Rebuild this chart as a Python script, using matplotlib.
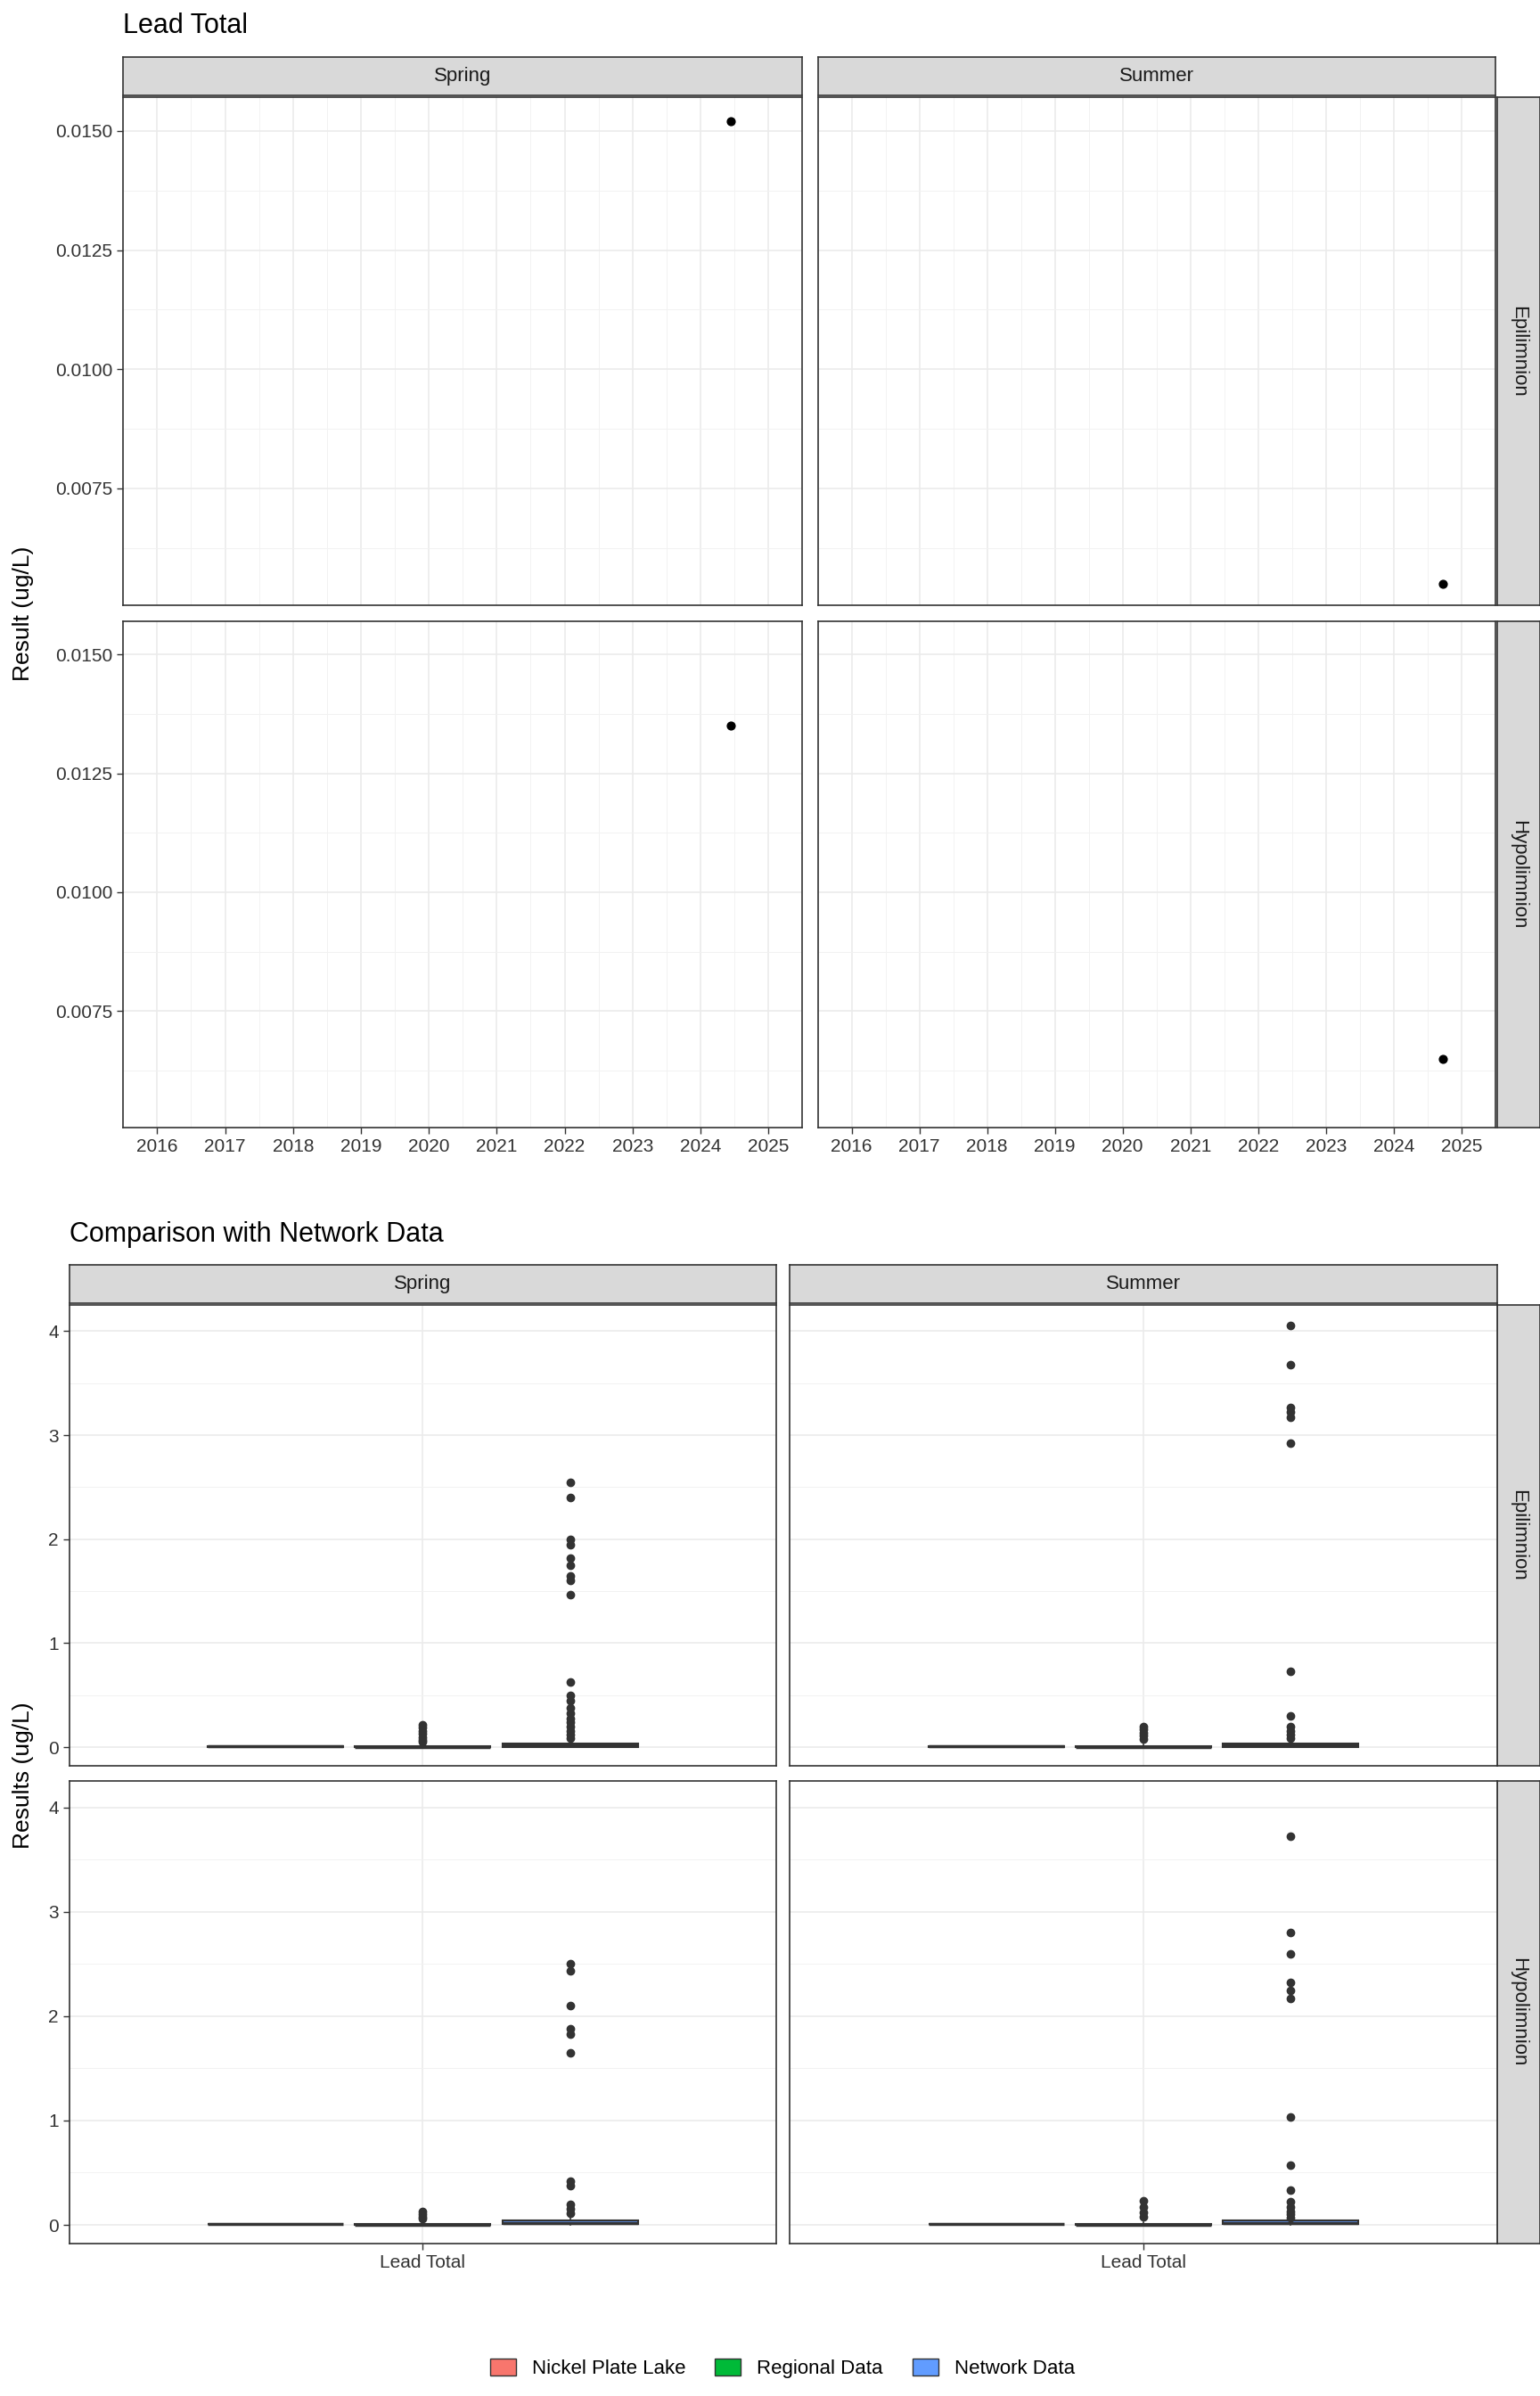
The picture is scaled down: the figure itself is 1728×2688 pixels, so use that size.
import matplotlib
matplotlib.use("Agg")
import matplotlib.pyplot as plt
from matplotlib.patches import Patch
import numpy as np

plt.rcParams["font.family"] = "Liberation Sans"

seasons = ["Spring", "Summer"]
layers = ["Epilimnion", "Hypolimnion"]
year_ticks = list(range(2016, 2026))
pt_year = {("Spring","Epilimnion"):2024.45, ("Summer","Epilimnion"):2024.72,
           ("Spring","Hypolimnion"):2024.45, ("Summer","Hypolimnion"):2024.72}
pt_val = {("Spring","Epilimnion"):0.0152, ("Summer","Epilimnion"):0.0055,
          ("Spring","Hypolimnion"):0.0135, ("Summer","Hypolimnion"):0.0065}

groups = ["Nickel Plate Lake", "Regional Data", "Network Data"]
colors = ["#F8766D", "#00BA38", "#619CFF"]
box_stats = {"Nickel Plate Lake": (0.005, 0.007, 0.01, 0.004, 0.012),
             "Regional Data": (0.0, 0.004, 0.01, -0.01, 0.03),
             "Network Data": (0.005, 0.02, 0.04, 0.0, 0.09)}
outliers = {
 ("Spring","Epilimnion"): {"Regional Data":[0.22,0.19,0.16,0.13,0.1,0.07,0.05],
   "Network Data":[2.55,2.4,2.0,1.95,1.82,1.75,1.65,1.6,1.47,0.63,0.5,0.45,0.38,0.33,0.28,0.24,0.2,0.16,0.12,0.09]},
 ("Summer","Epilimnion"): {"Regional Data":[0.2,0.17,0.14,0.11,0.08],
   "Network Data":[4.05,3.68,3.27,3.22,3.17,2.92,0.73,0.3,0.2,0.16,0.12,0.09]},
 ("Spring","Hypolimnion"): {"Regional Data":[0.13,0.1,0.08,0.06],
   "Network Data":[2.5,2.43,2.1,1.88,1.83,1.65,0.42,0.38,0.2,0.15,0.11]},
 ("Summer","Hypolimnion"): {"Regional Data":[0.23,0.17,0.12,0.08],
   "Network Data":[3.72,2.8,2.6,2.32,2.25,2.17,1.03,0.57,0.33,0.22,0.17,0.13,0.1,0.07]},
}

W, H = 1000, 1555
fig = plt.figure(figsize=(17.28, 26.88), dpi=100)
def ax_at(x0, y0, x1, y1):
    return fig.add_axes([x0/W, 1-y1/H, (x1-x0)/W, (y1-y0)/H])

BORDER = "#333333"
def style(ax):
    for s in ax.spines.values():
        s.set_color(BORDER); s.set_linewidth(1.2)
    ax.tick_params(colors="#333333", labelsize=15, length=5, width=1)
    ax.set_axisbelow(True)

def strip(x0, y0, x1, y1, text, rot=0):
    a = ax_at(x0, y0, x1, y1)
    a.set_facecolor("#D9D9D9")
    a.set_xticks([]); a.set_yticks([])
    for s in a.spines.values():
        s.set_color(BORDER); s.set_linewidth(1.2)
    a.text(0.5, 0.5, text, ha="center", va="center", rotation=rot, fontsize=16, color="#1A1A1A", transform=a.transAxes)

def hide(ax, i, j):
    if i == 0:
        ax.tick_params(axis="x", which="both", labelbottom=False, length=0)
    if j == 1:
        ax.tick_params(axis="y", which="both", labelleft=False, length=0)

# ---------------- top chart
fig.text(80/W, 1-17/H, "Lead Total", fontsize=22, va="center")
xcols = [(80, 521), (531, 971)]
yrows = [(63, 393), (403, 732)]
for j, s in enumerate(seasons):
    strip(xcols[j][0], 37, xcols[j][1], 62, s)
for i, l in enumerate(layers):
    strip(972, yrows[i][0], 1000, yrows[i][1], l, rot=-90)
for i, l in enumerate(layers):
    for j, s in enumerate(seasons):
        ax = ax_at(xcols[j][0], yrows[i][0], xcols[j][1], yrows[i][1])
        style(ax)
        ax.set_xlim(2015.58, 2025.42)
        ax.set_ylim(0.00504, 0.01571)
        ax.set_xticks(year_ticks)
        ax.set_xticks(np.arange(2015.5, 2025.6, 1.0), minor=True)
        ax.set_yticks([0.0075, 0.01, 0.0125, 0.015])
        ax.set_yticks([0.00625, 0.00875, 0.01125, 0.01375], minor=True)
        ax.grid(which="major", color="#EBEBEB", lw=1.2)
        ax.grid(which="minor", color="#F2F2F2", lw=0.7)
        ax.tick_params(which="minor", length=0)
        ax.yaxis.set_major_formatter(matplotlib.ticker.FormatStrFormatter("%.4f"))
        hide(ax, i, j)
        ax.scatter([pt_year[(s, l)]], [pt_val[(s, l)]], s=40, color="black", zorder=3)
fig.text(15/W, 1-398/H, "Result (ug/L)", rotation=90, fontsize=19, ha="center", va="center")

# ---------------- bottom chart
fig.text(45/W, 1-801/H, "Comparison with Network Data", fontsize=22, va="center")
xcols2 = [(45, 504), (513, 972)]
yrows2 = [(847, 1146), (1156, 1456)]
for j, s in enumerate(seasons):
    strip(xcols2[j][0], 821, xcols2[j][1], 846, s)
for i, l in enumerate(layers):
    strip(972, yrows2[i][0], 1000, yrows2[i][1], l, rot=-90)
offsets = [-0.25, 0.0, 0.25]
for i, l in enumerate(layers):
    for j, s in enumerate(seasons):
        ax = ax_at(xcols2[j][0], yrows2[i][0], xcols2[j][1], yrows2[i][1])
        style(ax)
        stats = []
        for g in groups:
            q1, med, q3, lo, hi = box_stats[g]
            stats.append(dict(q1=q1, med=med, q3=q3, whislo=lo, whishi=hi,
                              fliers=outliers[(s, l)].get(g, [])))
        bp = ax.bxp(stats, positions=[1+o for o in offsets], widths=0.23,
                    patch_artist=True, showcaps=False,
                    medianprops=dict(color="#333333", lw=2.5),
                    whiskerprops=dict(color="#333333", lw=1.2),
                    flierprops=dict(marker="o", markersize=6, markerfacecolor="#333333",
                                    markeredgecolor="#333333"),
                    boxprops=dict(edgecolor="#333333", lw=1.5))
        for p, c in zip(bp["boxes"], colors):
            p.set_facecolor(c)
        ax.set_xlim(0.4, 1.6)
        ax.set_ylim(-0.178, 4.25)
        ax.set_xticks([1]); ax.set_xticklabels(["Lead Total"])
        ax.set_yticks([0, 1, 2, 3, 4])
        ax.set_yticks([0.5, 1.5, 2.5, 3.5], minor=True)
        ax.grid(which="major", color="#EBEBEB", lw=1.2)
        ax.grid(which="minor", color="#F2F2F2", lw=0.7)
        ax.tick_params(which="minor", length=0)
        hide(ax, i, j)
fig.text(15/W, 1-1152/H, "Results (ug/L)", rotation=90, fontsize=19, ha="center", va="center")

handles = [Patch(facecolor=c, edgecolor="#333333", label=g) for g, c in zip(groups, colors)]
fig.legend(handles=handles, loc="center", bbox_to_anchor=(0.508, 1-1537/H), ncol=3,
           frameon=False, fontsize=16, handlelength=1.3, handleheight=1.0, columnspacing=1.5)

fig.savefig("out.png", dpi=100, facecolor="white")
